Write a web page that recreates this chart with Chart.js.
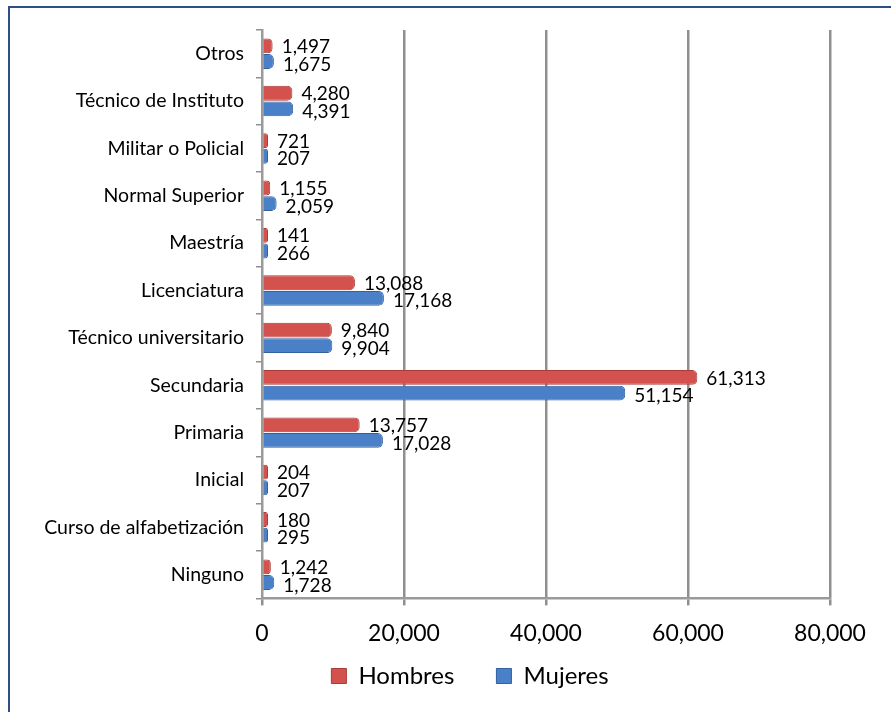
<!DOCTYPE html>
<html>
<head>
<meta charset="utf-8">
<script src="https://cdn.jsdelivr.net/npm/chart.js@4.4.1/dist/chart.umd.min.js"></script>
<style>
  html, body { margin: 0; padding: 0; background: #fff; }
  #wrap { position: relative; width: 891px; height: 712px; }
  #frame { position: absolute; left: 8px; top: 6px; right: -10px; bottom: -10px;
           border-left: 2px solid #2c4f88; border-top: 2px solid #2c4f88; }
  canvas { position: absolute; left: 0; top: 0; }
</style>
</head>
<body>
<div id="wrap">
  <div id="frame"></div>
  <canvas id="chart" width="891" height="712"></canvas>
</div>
<script>
const categories = ['Otros', 'Técnico de Instituto', 'Militar o Policial', 'Normal Superior', 'Maestría',
  'Licenciatura', 'Técnico universitario', 'Secundaria', 'Primaria', 'Inicial',
  'Curso de alfabetización', 'Ninguno'];
const hombres = [1497, 4280, 721, 1155, 141, 13088, 9840, 61313, 13757, 204, 180, 1242];
const mujeres = [1675, 4391, 207, 2059, 266, 17168, 9904, 51154, 17028, 207, 295, 1728];
const xTicks = [0, 20000, 40000, 60000, 80000];

const fontFam = "Lato, 'Open Sans', sans-serif";

// value labels at the end of each bar
const valueLabels = {
  id: 'valueLabels',
  afterDatasetsDraw(chart) {
    const ctx = chart.ctx;
    ctx.save();
    ctx.font = '19px ' + fontFam;
    ctx.fillStyle = '#000';
    ctx.textBaseline = 'middle';
    chart.data.datasets.forEach((ds, i) => {
      chart.getDatasetMeta(i).data.forEach((bar, j) => {
        const txt = ds.data[j].toLocaleString('en-US');
        ctx.fillText(txt, bar.x + 9, bar.y + (i === 0 ? 1 : 3));
      });
    });
    ctx.restore();
  }
};

// legend: a bit right of centre, wide gap between items, pulled up
const legendShift = {
  id: 'legendShift',
  afterLayout(chart) {
    const lg = chart.legend;
    lg.left += 55; lg.right += 55;
    lg.top -= 39; lg.bottom -= 39;
  }
};

new Chart(document.getElementById('chart'), {
  type: 'bar',
  data: {
    labels: categories,
    datasets: [{
      label: 'Hombres',
      data: hombres,
      backgroundColor: '#d4524e',
      borderColor: '#a93b38',
      borderWidth: 1,
      borderRadius: { topRight: 5, bottomRight: 5 },
      borderSkipped: 'start',
      minBarLength: 6,
      barPercentage: 0.95,
      categoryPercentage: 0.66
    }, {
      label: 'Mujeres',
      data: mujeres,
      backgroundColor: '#4a80c8',
      borderColor: '#33609e',
      borderWidth: 1,
      borderRadius: { topRight: 5, bottomRight: 5 },
      borderSkipped: 'start',
      minBarLength: 6,
      barPercentage: 0.95,
      categoryPercentage: 0.66
    }]
  },
  options: {
    indexAxis: 'y',
    responsive: false,
    animation: false,
    layout: { padding: { top: 30, right: 61, bottom: -25, left: 0 } },
    scales: {
      x: {
        min: 0,
        max: 80000,
        afterBuildTicks: (axis) => { axis.ticks = xTicks.map(v => ({ value: v })); },
        ticks: {
          color: '#000',
          font: { family: fontFam, size: 23 },
          padding: 14,
          callback: (v) => v.toLocaleString('en-US')
        },
        grid: {
          color: (c) => c.index === 0 ? 'rgba(0,0,0,0)' : '#8f8f8f',
          lineWidth: 2.5,
          tickLength: 7,
          tickColor: '#8f8f8f'
        },
        border: { color: '#9a9a9a', width: 2.5 }
      },
      y: {
        afterFit: (axis) => { axis.width = 262; },
        ticks: {
          color: '#000',
          font: { family: fontFam, size: 19.5 },
          padding: 12
        },
        grid: {
          offset: true,
          drawOnChartArea: false,
          tickLength: 6,
          tickColor: '#8f8f8f',
          lineWidth: 1.5
        },
        border: { color: '#9a9a9a', width: 2.5 }
      }
    },
    plugins: {
      legend: {
        position: 'bottom',
        labels: {
          color: '#000',
          font: { family: fontFam, size: 24 },
          boxWidth: 15,
          boxHeight: 15,
          padding: 42
        }
      },
      tooltip: { enabled: false }
    }
  },
  plugins: [valueLabels, legendShift]
});
</script>
</body>
</html>
